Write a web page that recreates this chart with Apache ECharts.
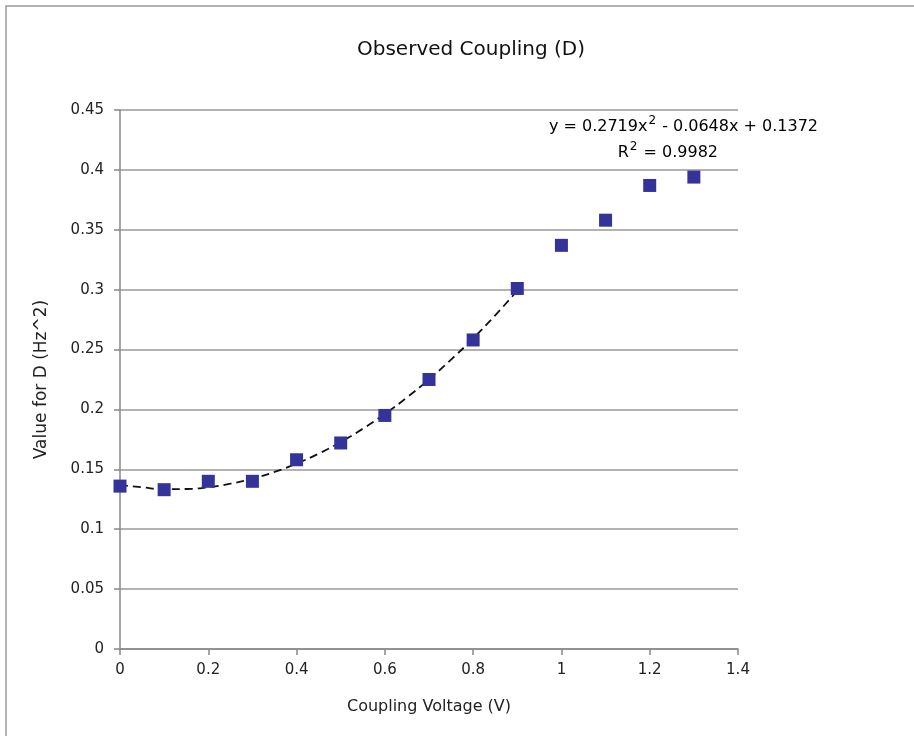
<!DOCTYPE html>
<html><head><meta charset="utf-8">
<script src="https://cdn.jsdelivr.net/npm/echarts@6/dist/echarts.min.js"></script>
<style>html,body{margin:0;padding:0;background:#fff}#c{width:914px;height:736px}</style>
</head><body><div id="c"></div>
<script>
const voltage = [0, 0.1, 0.2, 0.3, 0.4, 0.5, 0.6, 0.7, 0.8, 0.9, 1.0, 1.1, 1.2, 1.3];
const coupling = [0.136, 0.133, 0.140, 0.140, 0.158, 0.172, 0.195, 0.225, 0.258, 0.301, 0.337, 0.358, 0.387, 0.394];
const trendX = [0, 0.05, 0.1, 0.15, 0.2, 0.25, 0.3, 0.35, 0.4, 0.45, 0.5, 0.55, 0.6, 0.65, 0.7, 0.75, 0.8, 0.85, 0.9];
const trendY = [0.137, 0.135, 0.1334, 0.1336, 0.1351, 0.1380, 0.1422, 0.1478, 0.1548, 0.1631, 0.1728, 0.1839, 0.1962, 0.2100, 0.2251, 0.2416, 0.2594, 0.2786, 0.2991];
const titleText = 'Observed Coupling (D)';
const eqParts = ['y = 0.2719x', '2', ' - 0.0648x + 0.1372'];
const r2Parts = ['R', '2', ' = 0.9982'];

const chart = echarts.init(document.getElementById('c'));
const font = 'DejaVu Sans';
const rich = {
  a: { fontFamily: font, fontSize: 16, color: '#111', lineHeight: 20, verticalAlign: 'bottom' },
  s: { fontFamily: font, fontSize: 12, color: '#111', lineHeight: 20, verticalAlign: 'top', padding: [0, 1, 0, 1] }
};
chart.setOption({
  animation: false,
  backgroundColor: '#fff',
  title: { text: titleText, left: 466, top: 35, textAlign: 'center',
    textStyle: { fontFamily: font, fontSize: 20, fontWeight: 'normal', color: '#111' } },
  grid: { left: 120, right: 176, top: 110, bottom: 87 },
  xAxis: { type: 'value', min: 0, max: 1.4, interval: 0.2,
    name: 'Coupling Voltage (V)', nameLocation: 'middle', nameGap: 50,
    nameTextStyle: { fontFamily: font, fontSize: 16, color: '#222' },
    axisLine: { lineStyle: { color: '#888', width: 1.5 } },
    axisTick: { show: true, length: 6, lineStyle: { color: '#888', width: 1.5 } },
    axisLabel: { fontFamily: font, fontSize: 15, color: '#222', margin: 14 },
    splitLine: { show: false } },
  yAxis: { type: 'value', min: 0, max: 0.45, interval: 0.05,
    name: 'Value for D (Hz^2)', nameLocation: 'middle', nameGap: 70,
    nameTextStyle: { fontFamily: font, fontSize: 17, color: '#222' },
    axisLine: { show: true, lineStyle: { color: '#888', width: 1.5 } },
    axisTick: { show: true, length: 6, lineStyle: { color: '#888', width: 1.5 } },
    axisLabel: { fontFamily: font, fontSize: 15, color: '#222', margin: 16 },
    splitLine: { show: true, lineStyle: { color: '#999', width: 1.5 } } },
  graphic: [
    { type: 'rect', shape: { x: 6, y: 6, width: 930, height: 760 }, style: { fill: 'none', stroke: '#999', lineWidth: 1.5 }, silent: true },
    { type: 'text', right: 96, top: 115, style: { text: '{a|' + eqParts[0] + '}{s|' + eqParts[1] + '}{a|' + eqParts[2] + '}', rich: rich, textAlign: 'right' } },
    { type: 'text', right: 196, top: 141, style: { text: '{a|' + r2Parts[0] + '}{s|' + r2Parts[1] + '}{a|' + r2Parts[2] + '}', rich: rich, textAlign: 'right' } }
  ],
  series: [
    { type: 'line', data: trendX.map((x, i) => [x, trendY[i]]), smooth: true, symbol: 'none',
      lineStyle: { color: '#111', width: 1.8, type: [8, 5] }, z: 3 },
    { type: 'scatter', data: voltage.map((x, i) => [x, coupling[i]]), symbol: 'rect', symbolSize: 13,
      itemStyle: { color: '#333399', opacity: 1 }, z: 4 }
  ]
});
</script></body></html>
